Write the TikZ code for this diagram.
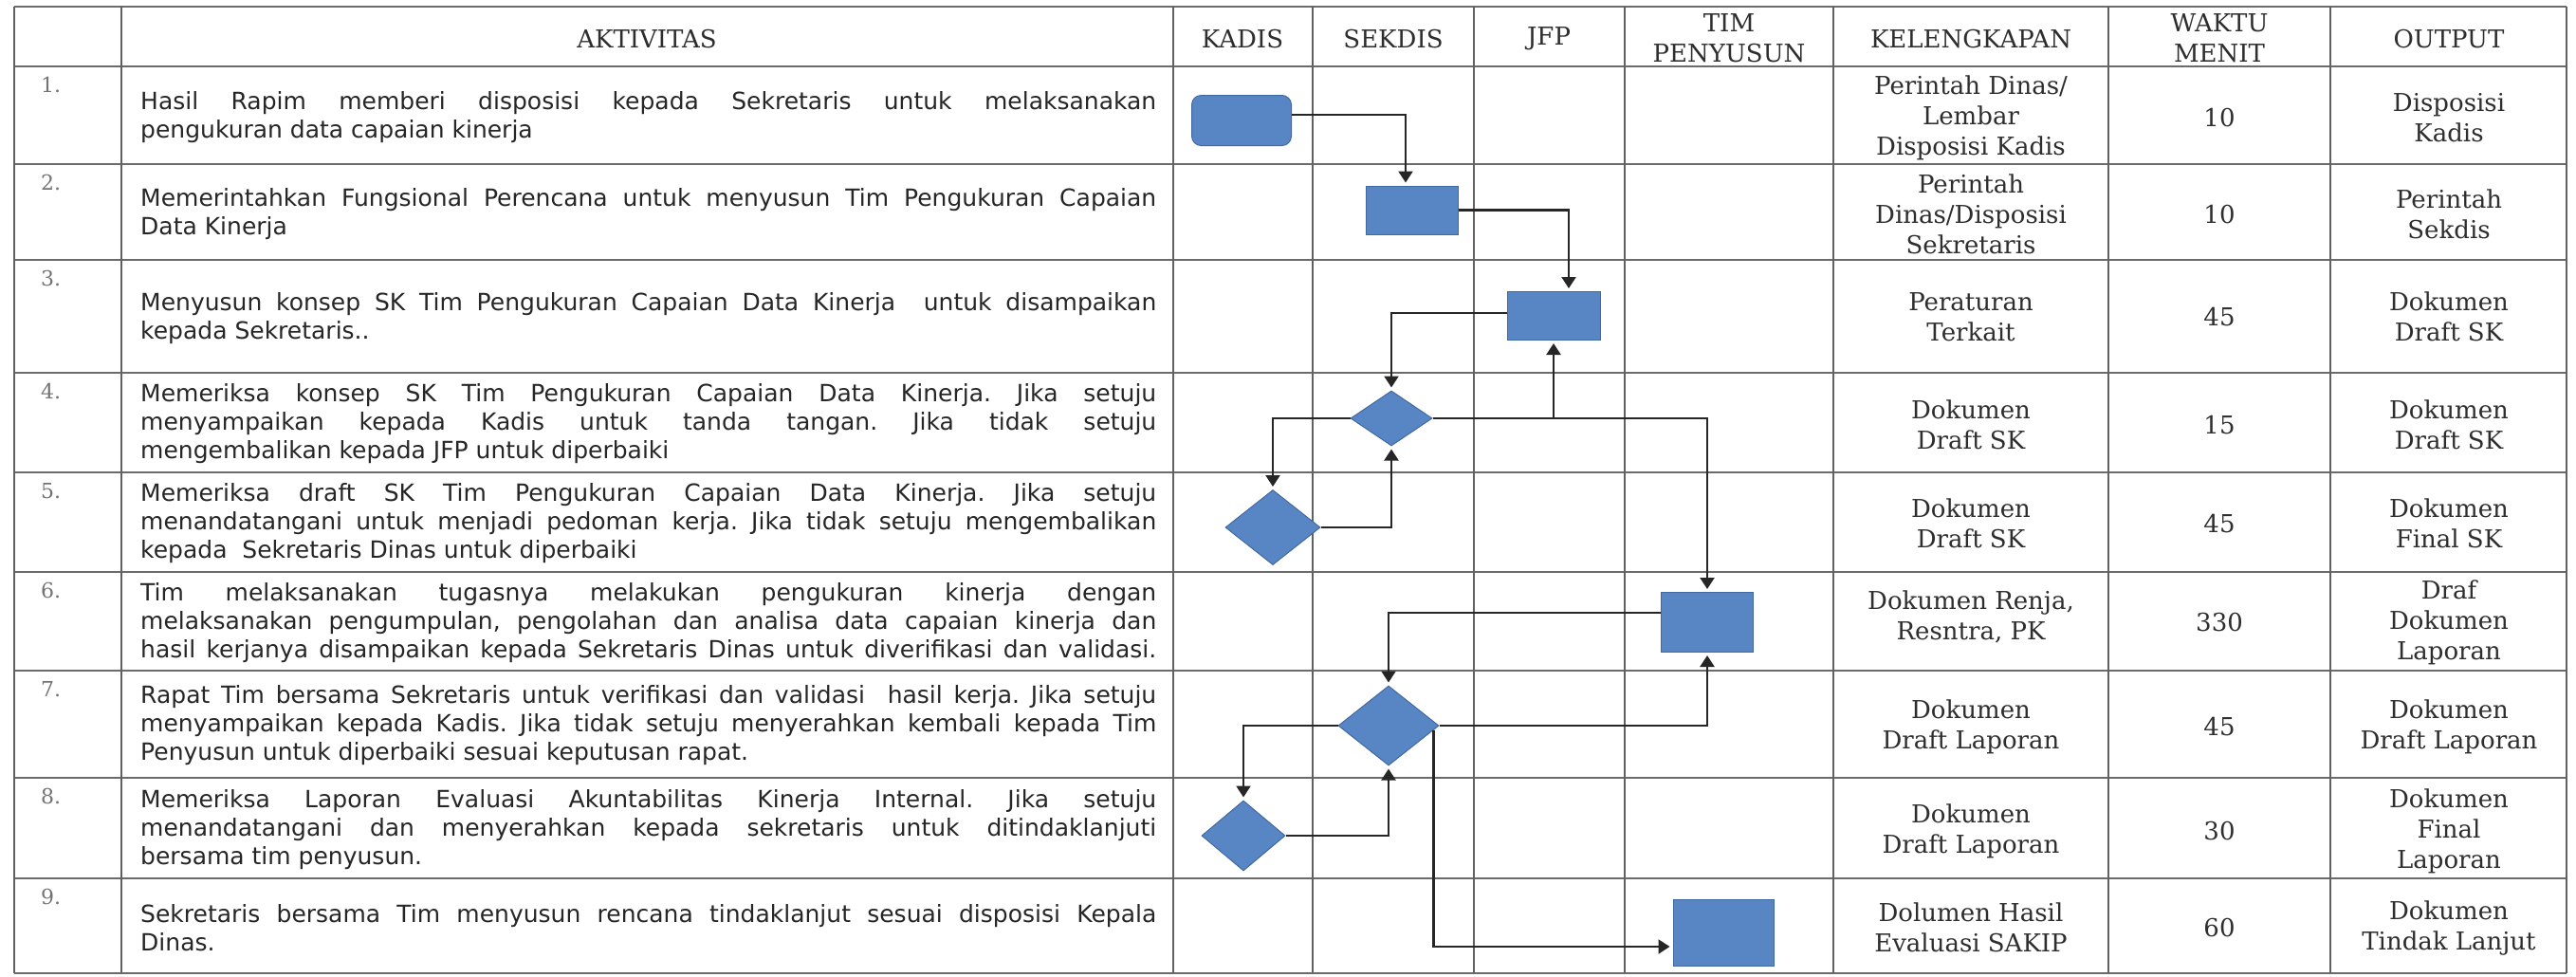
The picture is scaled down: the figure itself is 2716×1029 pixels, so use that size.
\documentclass[tikz,border=0pt]{standalone}
\usepackage{fontspec}
\setmainfont{DejaVu Serif}
\newfontfamily\actfont{DejaVu Sans}
\usetikzlibrary{arrows.meta,calc,shapes.geometric}
\definecolor{boxblue}{RGB}{88,134,196}
\definecolor{boxedge}{RGB}{66,104,160}
\newcommand\jline[1]{\hbox to 1071pt{#1}}
\tikzset{
  hrule/.style={line width=2.6pt, draw=black!58},
  vrule/.style={line width=1.8pt, draw=black!62},
  acttext/.style={anchor=west, inner sep=0pt, align=left, font={\actfont\fontsize{25}{30}\selectfont\frenchspacing}, text=black!85},
  cell/.style={inner sep=0pt, align=center, font={\fontsize{26}{32}\selectfont}, text=black!82},
  numtext/.style={anchor=north west, inner sep=0pt, font={\fontsize{22}{26}\selectfont}, text=black!55},
  procbox/.style={rectangle, fill=boxblue, draw=boxedge, line width=1pt, inner sep=0pt},
  decision/.style={diamond, fill=boxblue, draw=boxedge, line width=1pt, inner sep=0pt},
  flow/.style={line width=2.2pt, draw=black!85, -{Triangle[length=12pt,width=15pt]}, shorten >=3pt}
}
\begin{document}
\frenchspacing
\begin{tikzpicture}[x=1pt,y=-1pt]
\useasboundingbox (0,0) rectangle (2716,1029);
\fill[white] (0,0) rectangle (2716,1029);

% grid
\foreach \yy in {7,70,173,274,393,498,603,707,820,926,1026}
  \draw[hrule] (15,\yy) -- (2706,\yy);
\foreach \xx in {15,128,1237,1384,1554,1713,1933,2223,2457,2706}
  \draw[vrule] (\xx,7) -- (\xx,1026);

% header
\node[cell] (hakt) at (682,41) {AKTIVITAS};
\node[cell] (hkadis) at (1310,41) {KADIS};
\node[cell] (hsekdis) at (1469,41) {SEKDIS};
\node[cell] (hjfp) at (1633,41) {JFP};
\node[cell] (htim) at (1823,40) {TIM\\PENYUSUN};
\node[cell] (hkel) at (2078,41) {KELENGKAPAN};
\node[cell] (hwaktu) at (2340,40) {WAKTU\\MENIT};
\node[cell] (hout) at (2582,41) {OUTPUT};

% numbers
\node[numtext] (n1) at (43,81) {1.};
\node[numtext] (n2) at (43,184) {2.};
\node[numtext] (n3) at (43,285) {3.};
\node[numtext] (n4) at (43,404) {4.};
\node[numtext] (n5) at (43,509) {5.};
\node[numtext] (n6) at (43,614) {6.};
\node[numtext] (n7) at (43,718) {7.};
\node[numtext] (n8) at (43,831) {8.};
\node[numtext] (n9) at (43,937) {9.};

% activities
\node[acttext] (a1) at (148,124) {\jline{Hasil Rapim memberi disposisi kepada Sekretaris untuk melaksanakan}\\pengukuran data capaian kinerja};
\node[acttext] (a2) at (148,226) {\jline{Memerintahkan Fungsional Perencana untuk menyusun Tim Pengukuran Capaian}\\Data Kinerja};
\node[acttext] (a3) at (148,336) {\jline{Menyusun konsep SK Tim Pengukuran Capaian Data Kinerja\ \ untuk disampaikan}\\kepada Sekretaris..};
\node[acttext] (a4) at (148,447) {\jline{Memeriksa konsep SK Tim Pengukuran Capaian Data Kinerja. Jika setuju}\\\jline{menyampaikan kepada Kadis untuk tanda tangan. Jika tidak setuju}\\mengembalikan kepada JFP untuk diperbaiki};
\node[acttext] (a5) at (148,552) {\jline{Memeriksa draft SK Tim Pengukuran Capaian Data Kinerja. Jika setuju}\\\jline{menandatangani untuk menjadi pedoman kerja. Jika tidak setuju mengembalikan}\\kepada\ \ Sekretaris Dinas untuk diperbaiki};
\node[acttext] (a6) at (148,657) {\jline{Tim melaksanakan tugasnya melakukan pengukuran kinerja dengan}\\\jline{melaksanakan pengumpulan, pengolahan dan analisa data capaian kinerja dan}\\\jline{hasil kerjanya disampaikan kepada Sekretaris Dinas untuk diverifikasi dan validasi.}};
\node[acttext] (a7) at (148,765) {\jline{Rapat Tim bersama Sekretaris untuk verifikasi dan validasi\ \ hasil kerja. Jika setuju}\\\jline{menyampaikan kepada Kadis. Jika tidak setuju menyerahkan kembali kepada Tim}\\Penyusun untuk diperbaiki sesuai keputusan rapat.};
\node[acttext] (a8) at (148,875) {\jline{Memeriksa Laporan Evaluasi Akuntabilitas Kinerja Internal. Jika setuju}\\\jline{menandatangani dan menyerahkan kepada sekretaris untuk ditindaklanjuti}\\bersama tim penyusun.};
\node[acttext] (a9) at (148,978) {\jline{Sekretaris bersama Tim menyusun rencana tindaklanjut sesuai disposisi Kepala}\\Dinas.};

% kelengkapan
\node[cell] (k1) at (2078,124) {Perintah Dinas/\\Lembar\\Disposisi Kadis};
\node[cell] (k2) at (2078,226) {Perintah\\Dinas/Disposisi\\Sekretaris};
\node[cell] (k3) at (2078,334) {Peraturan\\Terkait};
\node[cell] (k4) at (2078,448) {Dokumen\\Draft SK};
\node[cell] (k5) at (2078,552) {Dokumen\\Draft SK};
\node[cell] (k6) at (2078,650) {Dokumen Renja,\\Resntra, PK};
\node[cell] (k7) at (2078,766) {Dokumen\\Draft Laporan};
\node[cell] (k8) at (2078,876) {Dokumen\\Draft Laporan};
\node[cell] (k9) at (2078,978) {Dolumen Hasil\\Evaluasi SAKIP};

% waktu
\node[cell] (w1) at (2340,124) {10};
\node[cell] (w2) at (2340,226) {10};
\node[cell] (w3) at (2340,334) {45};
\node[cell] (w4) at (2340,448) {15};
\node[cell] (w5) at (2340,552) {45};
\node[cell] (w6) at (2340,656) {330};
\node[cell] (w7) at (2340,766) {45};
\node[cell] (w8) at (2340,876) {30};
\node[cell] (w9) at (2340,978) {60};

% output
\node[cell] (o1) at (2582,124) {Disposisi\\Kadis};
\node[cell] (o2) at (2582,226) {Perintah\\Sekdis};
\node[cell] (o3) at (2582,334) {Dokumen\\Draft SK};
\node[cell] (o4) at (2582,448) {Dokumen\\Draft SK};
\node[cell] (o5) at (2582,552) {Dokumen\\Final SK};
\node[cell] (o6) at (2582,656) {Draf\\Dokumen\\Laporan};
\node[cell] (o7) at (2582,766) {Dokumen\\Draft Laporan};
\node[cell] (o8) at (2582,876) {Dokumen\\Final\\Laporan};
\node[cell] (o9) at (2582,978) {Dokumen\\Tindak Lanjut};

% flow shapes
\node[procbox, rounded corners=10pt, minimum width=105pt, minimum height=53pt] (r1) at (1309,127) {};
\node[procbox, minimum width=97pt, minimum height=51pt] (r2) at (1489,221.5) {};
\node[procbox, minimum width=98pt, minimum height=51pt] (r3) at (1638,333) {};
\node[decision, minimum width=86pt, minimum height=58pt] (d4) at (1467,441) {};
\node[decision, minimum width=100pt, minimum height=79pt] (d5) at (1342,556) {};
\node[procbox, minimum width=97pt, minimum height=63pt] (r6) at (1800,656) {};
\node[decision, minimum width=106pt, minimum height=84pt] (d7) at (1464,765) {};
\node[decision, minimum width=88pt, minimum height=74pt] (d8) at (1311,881) {};
\node[procbox, minimum width=106pt, minimum height=70pt] (r9) at (1817,983) {};

% connectors
\draw[flow] ($(r1.east)+(0,-6)$) -| ($(r2.north)+(-7,0)$);
\draw[flow] (r2.east) -| ($(r3.north)+(16,0)$);
\draw[flow] ($(r3.west)+(0,-3)$) -| (d4.north);
\draw[flow] (d4.west) -| (d5.north);
\draw[flow] (d5.east) -| (d4.south);
\draw[flow] (d4.east) -| (r3.south);
\draw[flow] (d4.east) -| (r6.north);
\draw[flow] ($(r6.west)+(0,-10)$) -| (d7.north);
\draw[flow] (d7.east) -| (r6.south);
\draw[flow] (d7.west) -| (d8.north);
\draw[flow] (d8.east) -| (d7.south);
\draw[flow] ($(d7.east)+(-6,4.7)$) |- ($(r9.west)+(0,15)$);
\end{tikzpicture}
\end{document}
